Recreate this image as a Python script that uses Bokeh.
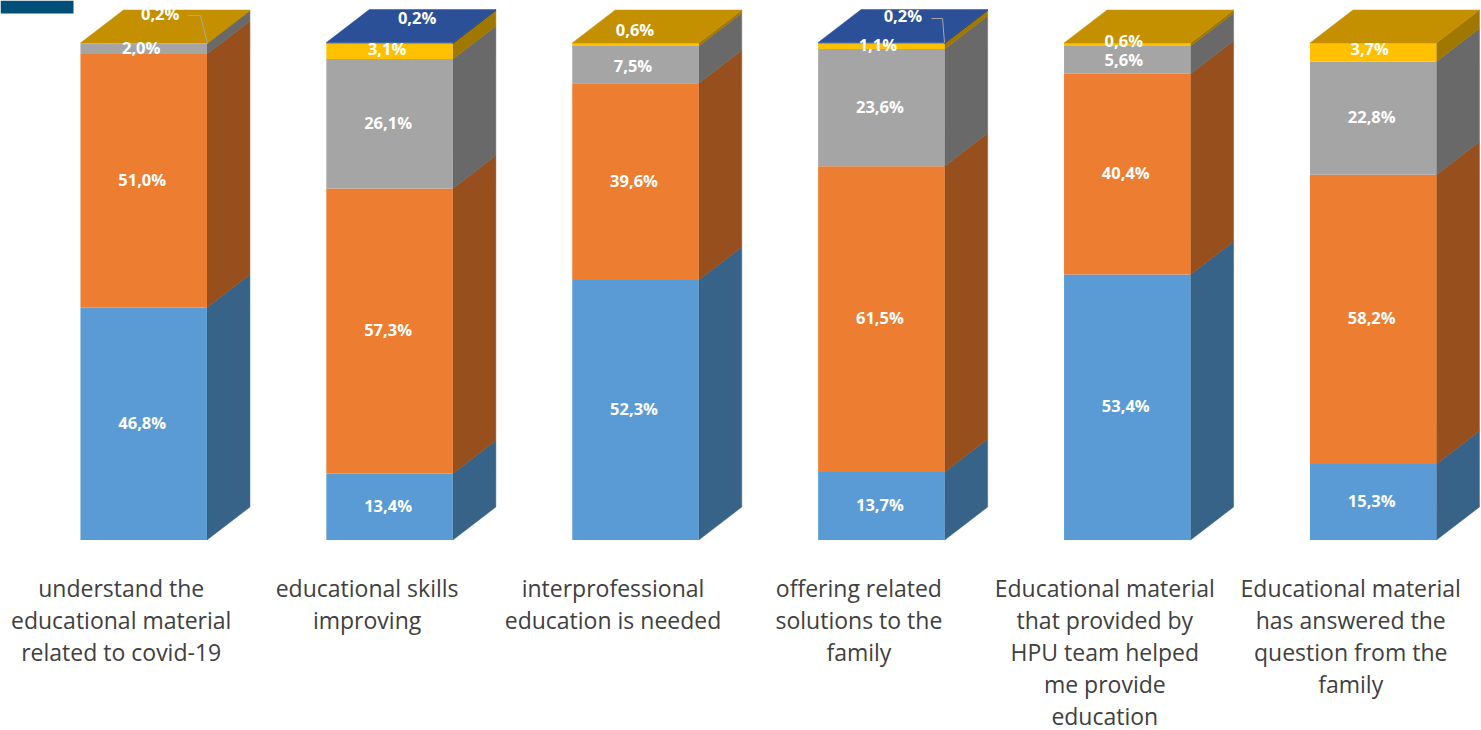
from bokeh.plotting import figure
from bokeh.embed import file_html
from bokeh.resources import INLINE
from bokeh.core.properties import value

categories = [
    "understand the\neducational material\nrelated to covid-19",
    "educational skills\nimproving",
    "interprofessional\neducation is needed",
    "offering related\nsolutions to the\nfamily",
    "Educational material\nthat provided by\nHPU team helped\nme provide\neducation",
    "Educational material\nhas answered the\nquestion from the\nfamily",
]
s_blue = [46.8, 13.4, 52.3, 13.7, 53.4, 15.3]
s_orange = [51.0, 57.3, 39.6, 61.5, 40.4, 58.2]
s_gray = [2.0, 26.1, 7.5, 23.6, 5.6, 22.8]
s_yellow = [0.2, 3.1, 0.6, 1.1, 0.6, 3.7]
s_navy = [0.0, 0.2, 0.0, 0.2, 0.0, 0.0]
series = [s_blue, s_orange, s_gray, s_yellow, s_navy]

front = ["#5B9BD5", "#ED7D31", "#A5A5A5", "#FFC000", "#2F55A0"]
side = ["#376388", "#984F1E", "#696969", "#A07800", "#1F3864"]
top = ["#4A7FAF", "#C46628", "#888888", "#C49000", "#2B5098"]

W, H = 1481, 730
Y0_REF = 539.5     # pixel row of 0 %
PX_PCT = 4.97      # pixels per percent
X0_REF = 143.2     # pixel column of the first bar's centre
STEP = 245.9       # pixels between bars
BAR_W = 126.5 / STEP
DX = 43 / STEP
DY = 33 / PX_PCT


def xd(px):
    return (px - X0_REF) / STEP


def yd(px):
    return (Y0_REF - px) / PX_PCT


p = figure(
    width=W, height=H, output_backend="svg", toolbar_location=None,
    x_range=(xd(0), xd(W)), y_range=(yd(H), yd(0)),
    min_border=0, outline_line_color=None, background_fill_color="white",
    border_fill_color="white",
)
p.axis.visible = False
p.grid.visible = False

# corner block of the reference
p.quad(left=xd(0), right=xd(73), bottom=yd(13), top=yd(0),
       fill_color="#004F7A", line_color=None)

# 3-D column faces
for i in range(len(categories)):
    l, r = i - BAR_W / 2, i + BAR_W / 2
    b = 0.0
    top_idx = 0
    for k, s in enumerate(series):
        v = s[i]
        if v <= 0:
            continue
        t = b + v
        p.patch([r, r + DX, r + DX, r], [b, b + DY, t + DY, t],
                fill_color=side[k], line_color=side[k], line_width=0.5)
        p.quad(left=l, right=r, bottom=b, top=t,
               fill_color=front[k], line_color=None)
        b = t
        top_idx = k
    p.patch([l, r, r + DX, l + DX], [b, b, b + DY, b + DY],
            fill_color=top[top_idx], line_color=top[top_idx], line_width=0.5)

# data labels: default is the middle of the segment; exceptions nudged in screen pixels
BASE_NUDGE = (-1.5, -1.5)
nudges = {
    (0, 2): (-1, 0), (0, 3): (18, -28),
    (1, 3): (-1, -1), (1, 4): (29, -24),
    (2, 2): (-1, 2), (2, 3): (1, -13),
    (3, 3): (-2, 0), (3, 4): (23, -26),
    (4, 2): (-2, 1), (4, 3): (-2, -2),
    (5, 3): (-2, -2),
}
lx, ly, lt, ldx, ldy = [], [], [], [], []
for i in range(len(categories)):
    b = 0.0
    for k, s in enumerate(series):
        v = s[i]
        if v <= 0:
            continue
        nx, ny = nudges.get((i, k), (0, 0))
        lx.append(i)
        ly.append(b + v / 2)
        lt.append(f"{v:.1f}%".replace(".", ","))
        ldx.append(nx + BASE_NUDGE[0])
        ldy.append(ny + BASE_NUDGE[1])
        b += v
p.text(x=lx, y=ly, text=lt, x_offset=ldx, y_offset=ldy,
       text_align="center", text_baseline="middle", text_color="white",
       text_font=value("Open Sans"), text_font_style="bold", text_font_size="16.5px")

# leader lines for the hidden 0,2 % slices
p.line([xd(187), xd(200), xd(207)], [yd(15), yd(15), yd(43)],
       line_color="#A6A6A6", line_width=1)
p.line([xd(931), xd(942), xd(944)], [yd(18), yd(18), yd(42)],
       line_color="#A6A6A6", line_width=1)

# category labels
cx, cy, ct = [], [], []
for i, c in enumerate(categories):
    for j, line in enumerate(c.split("\n")):
        cx.append(i - 22.5 / STEP)
        cy.append(yd(587 + 32 * j))
        ct.append(line)
p.text(x=cx, y=cy, text=ct, text_align="center", text_baseline="middle",
       text_color="#404040", text_font=value("Open Sans"), text_font_size="23px")

open("out.html", "w").write(file_html(p, INLINE))
